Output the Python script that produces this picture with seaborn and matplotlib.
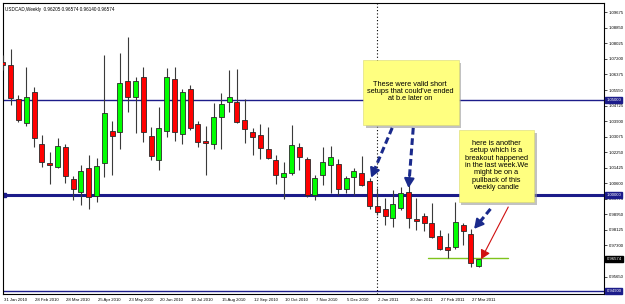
import matplotlib
matplotlib.use("Agg")
import matplotlib.pyplot as plt
import matplotlib.transforms as mtransforms
from matplotlib.patches import Rectangle
import numpy as np
import pandas as pd
import seaborn as sns

sns.set_style("white")
plt.rcParams['font.family'] = ['Liberation Sans', 'DejaVu Sans']

# ---------------- data ----------------
dates = pd.date_range("2010-01-31", periods=62, freq="7D")
opens = [1.0704, 1.0688, 1.0506, 1.0378, 1.0543, 1.0267, 1.0169, 1.0148, 1.0251, 1.0081,
         1.0014, 1.0141, 0.9993, 1.0166, 1.0339, 1.0331, 1.0603, 1.0520, 1.0624, 1.0313,
         1.0184, 1.0339, 1.0612, 1.0320, 1.0561, 1.0373, 1.0285, 1.0269, 1.0410, 1.0492,
         1.0493, 1.0396, 1.0331, 1.0316, 1.0242, 1.0184, 1.0095, 1.0113, 1.0254, 1.0187,
         0.9998, 1.0104, 1.0157, 1.0162, 1.0028, 1.0095, 1.0116, 1.0074, 0.9940, 0.9924,
         0.9874, 0.9927, 1.0012, 0.9872, 0.9886, 0.9848, 0.9780, 0.9724, 0.9720, 0.9839,
         0.9791, 0.96205]
highs = [1.0741, 1.0771, 1.0529, 1.0679, 1.0573, 1.0316, 1.0228, 1.0299, 1.0269, 1.0099,
         1.0157, 1.0210, 1.0193, 1.0741, 1.0391, 1.0750, 1.0836, 1.0626, 1.0679, 1.0357,
         1.0467, 1.0670, 1.0676, 1.0559, 1.0582, 1.0391, 1.0364, 1.0488, 1.0541, 1.0661,
         1.0667, 1.0506, 1.0352, 1.0375, 1.0357, 1.0210, 1.0175, 1.0369, 1.0275, 1.0201,
         1.0104, 1.0254, 1.0258, 1.0187, 1.0099, 1.0140, 1.0205, 1.0087, 1.0033, 0.9980,
         1.0025, 1.0039, 1.0077, 0.9980, 0.9901, 0.9954, 0.9812, 0.9795, 0.9962, 0.9848,
         0.9816, 0.96574]
lows = [1.0661, 1.0476, 1.0384, 1.0364, 1.0254, 1.0148, 1.0056, 1.0140, 1.0060, 0.9971,
        0.9945, 0.9924, 0.9962, 1.0095, 1.0104, 1.0240, 1.0440, 1.0329, 1.0281, 1.0184,
        1.0131, 1.0307, 1.0286, 1.0269, 1.0343, 1.0251, 1.0104, 1.0240, 1.0240, 1.0440,
        1.0382, 1.0275, 1.0210, 1.0187, 1.0187, 1.0056, 0.9975, 1.0104, 1.0131, 0.9989,
        0.9971, 1.0051, 1.0007, 0.9998, 1.0010, 0.9998, 1.0046, 0.9922, 0.9892, 0.9839,
        0.9830, 0.9918, 0.9821, 0.9812, 0.9809, 0.9771, 0.9705, 0.9662, 0.9710, 0.9733,
        0.9617, 0.96140]
closes = [1.0688, 1.0511, 1.0396, 1.0520, 1.0299, 1.0175, 1.0156, 1.0260, 1.0100, 1.0031,
          1.0127, 0.9986, 1.0152, 1.0435, 1.0313, 1.0591, 1.0516, 1.0603, 1.0334, 1.0207,
          1.0352, 1.0623, 1.0331, 1.0546, 1.0352, 1.0278, 1.0272, 1.0410, 1.0481, 1.0516,
          1.0387, 1.0347, 1.0307, 1.0249, 1.0196, 1.0104, 1.0113, 1.0262, 1.0198, 0.9998,
          1.0087, 1.0172, 1.0201, 1.0028, 1.0087, 1.0125, 1.0051, 0.9940, 0.9909, 0.9886,
          0.9949, 1.0007, 0.9874, 0.9860, 0.9851, 0.9777, 0.9710, 0.9706, 0.9855, 0.9809,
          0.9635, 0.96574]

tick_bars = list(range(0, 62, 4))
tick_labels = [f"{d.day} {d.strftime('%b %Y')}" for d in dates[tick_bars]]
price_ticks = [1.09675 - 0.00825 * k for k in range(18)]
hlines = {"1.05000": (1.05000, 1.0), "1.00000": (1.00000, 2.2), "0.94900": (0.94900, 1.0)}
last_price = 0.96574
support_level = 0.9665
title = "USDCAD,Weekly  0.96205 0.96574 0.96140 0.96574"
note1 = "These were valid short\nsetups that could've ended\nat b.e later on"
note2 = ("here is another\nsetup which is a\nbreakout happened\nin the last week.We\n"
         "might be on a\npullback of this\nweekly candle")

df = pd.DataFrame({"date": dates, "open": opens, "high": highs, "low": lows, "close": closes})
df["i"] = np.arange(len(df))
df["up"] = df["close"] >= df["open"]

# ---------------- figure ----------------
W, H = 625, 304
fig = plt.figure(figsize=(W / 100, H / 100), dpi=100)
fig.patch.set_facecolor("white")
ax = fig.add_axes([2.5 / W, (H - 293.5) / H, (604 - 2.5) / W, (293.5 - 2.5) / H])
ax.set_facecolor("white")
ax.set_xlim(-0.05, 77.05)
ax.set_ylim(0.94752, 1.10195)

navy = "#1c1c8a"

# horizontal lines
for lab, (lvl, lw) in hlines.items():
    ax.axhline(lvl, color=navy, lw=lw, zorder=1)
ax.plot([0.15], [1.0], marker="s", ms=2.5, color=navy, zorder=2)

# dotted vertical line at 2 Jan 2011
ax.axvline(48, color="black", lw=0.8, ls=(0, (1, 2)), zorder=1)

# support line
ax.plot([54.5, 64.8], [support_level, support_level], color="#7fc31c", lw=1.0, zorder=2)

# candles
ax.vlines(df["i"], df["low"], df["high"], color="#3a3a3a", lw=0.8, zorder=3)
bottoms = np.minimum(df["open"], df["close"])
heights = np.maximum(np.abs(df["close"] - df["open"]), 0.00025)
colors = np.where(df["up"], "#00ff00", "#ff0000")
ax.bar(df["i"], heights, bottom=bottoms, width=0.64, color=colors,
       edgecolor="#2a2a2a", linewidth=0.6, zorder=4)

# axis styling
for s in ax.spines.values():
    s.set_color("black")
    s.set_linewidth(0.8)
ax.yaxis.tick_right()
ax.set_yticks(price_ticks)
# the tick label right under the current-price marker is hidden by it in the original
ax.set_yticklabels(["" if abs(v - last_price) < 0.003 else f"{v:.5f}" for v in price_ticks])
ax.set_xticks(tick_bars)
ax.set_xticklabels(tick_labels, ha="left")
ax.tick_params(axis="y", length=2, width=0.5, pad=1.2, labelsize=3.1, colors="black")
ax.tick_params(axis="x", length=2, width=0.5, pad=1.0, labelsize=3.1, colors="black")
offset = mtransforms.ScaledTranslation(1.0 / 100, 0, fig.dpi_scale_trans)
for t in ax.get_xticklabels():
    t.set_transform(t.get_transform() + offset)
ax.grid(False)

# highlighted right-axis labels
yt = mtransforms.blended_transform_factory(ax.transAxes, ax.transData)
for lab, (lvl, lw) in hlines.items():
    ax.text(1.004, lvl, lab, transform=yt, fontsize=3.1, color="white", va="center", ha="left",
            bbox=dict(boxstyle="square,pad=0.25", fc=navy, ec=navy), zorder=10, clip_on=False)
ax.text(1.004, last_price, f"{last_price:.5f}", transform=yt, fontsize=3.1, color="white",
        va="center", ha="left", bbox=dict(boxstyle="square,pad=0.25", fc="black", ec="black"),
        zorder=10, clip_on=False)

# title
ax.text(0.004, 0.985, title, transform=ax.transAxes, fontsize=3.3, va="top", ha="left", color="black")

# notes (yellow boxes with shadow)
px = 1 / 7.81
py = 0.0005307
def note_box(x0, x1, y0, y1, text, cx, cy):
    ax.add_patch(Rectangle((x0 + 3 * px, y0 - 3 * py), x1 - x0, y1 - y0, fc="#9a9a9a",
                           ec="none", zorder=7, alpha=0.6))
    ax.add_patch(Rectangle((x0, y0), x1 - x0, y1 - y0, fc="#ffff80", ec="#d8d870",
                           lw=0.4, zorder=8))
    ax.text(cx, cy, text, fontsize=5.3, ha="center", va="center", linespacing=1.08,
            color="black", zorder=9)

note_box(46.1, 58.4, 1.0369, 1.0714, note1, 52.2, 1.0547)
note_box(58.4, 68.1, 0.9961, 1.0343, note2, 63.25, 1.0155)

# arrows
def dashed_arrow(x0, y0, x1, y1, color, lw, dashed=True):
    xs = x0 + (x1 - x0) * 0.8
    ys = y0 + (y1 - y0) * 0.8
    ax.plot([x0, xs], [y0, ys], color=color, lw=lw, ls=(0, (2.2, 1.2)) if dashed else "-",
            zorder=9, solid_capstyle="butt", dash_capstyle="butt")
    ax.annotate("", xy=(x1, y1), xytext=(xs, ys),
                arrowprops=dict(arrowstyle="-|>,head_length=0.55,head_width=0.3",
                                color=color, lw=lw if not dashed else 1.5,
                                shrinkA=0, shrinkB=0, mutation_scale=10), zorder=9)

dashed_arrow(49.9, 1.0354, 47.2, 1.0090, "#1a2a8c", 2.2)
dashed_arrow(52.6, 1.0354, 52.0, 1.0035, "#1a2a8c", 2.2)
dashed_arrow(62.5, 0.9924, 60.4, 0.9818, "#1a2a8c", 2.2)
dashed_arrow(64.8, 0.9936, 61.3, 0.9657, "#d01010", 0.8, dashed=False)

fig.savefig("out.png", dpi=100, facecolor="white")
